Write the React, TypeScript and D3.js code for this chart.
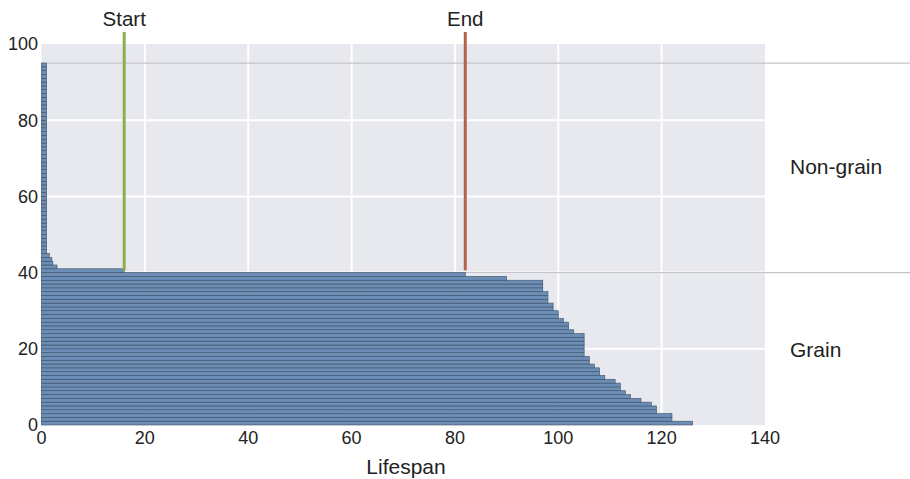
import React, { useEffect, useRef } from 'react';
import * as d3 from 'd3';

// lifespan of each grain item, row 0 at the bottom
const grainLifespans = [
  126, 122, 122, 119, 119, 118, 116, 114, 113, 112,
  112, 111, 109, 108, 108, 107, 106, 106, 105, 105,
  105, 105, 105, 105, 103, 102, 102, 101, 100, 100,
  99, 99, 98, 98, 98, 97, 97, 97, 90, 82
];

// non-grain items, stacked above the grain rows
const nonGrainLifespans = [
  16, 3, 2.2, 2, 1.5,
  1, 1, 1, 1, 1, 1, 1, 1, 1, 1,
  1, 1, 1, 1, 1, 1, 1, 1, 1, 1,
  1, 1, 1, 1, 1, 1, 1, 1, 1, 1,
  1, 1, 1, 1, 1, 1, 1, 1, 1, 1,
  1, 1, 1, 1, 1, 1, 1, 1, 1, 1
];

const xTicks = [0, 20, 40, 60, 80, 100, 120, 140];
const yTicks = [0, 20, 40, 60, 80, 100];
const markers = [
  { label: 'Start', value: 16, color: '#8fae4e' },
  { label: 'End', value: 82, color: '#b5624a' }
];
const groupLabels = [
  { label: 'Non-grain', y: 65.9 },
  { label: 'Grain', y: 17.9 }
];

const App: React.FC = () => {
  const svgRef = useRef<SVGSVGElement>(null);

  useEffect(() => {
    if (!svgRef.current) return;
    const width = 910;
    const height = 479;
    const font = 'Liberation Sans, Arial, Helvetica, sans-serif';

    d3.select(svgRef.current).selectAll('*').remove();
    const svg = d3.select(svgRef.current)
      .attr('width', width)
      .attr('height', height);

    const x = d3.scaleLinear().domain([0, 140]).range([41.5, 765]);
    const y = d3.scaleLinear().domain([0, 100]).range([425, 44]);

    const rows = [...grainLifespans, ...nonGrainLifespans];
    const nGrain = grainLifespans.length;
    const nTotal = rows.length;

    // plot background
    svg.append('rect')
      .attr('x', x(0))
      .attr('y', y(100))
      .attr('width', x(140) - x(0))
      .attr('height', y(0) - y(100))
      .attr('fill', '#e8e9ee');

    // white grid
    svg.append('g')
      .selectAll('line')
      .data(xTicks.filter(d => d > 0 && d < 140))
      .join('line')
      .attr('x1', d => x(d))
      .attr('x2', d => x(d))
      .attr('y1', y(100))
      .attr('y2', y(0))
      .attr('stroke', '#ffffff')
      .attr('stroke-width', 2);

    svg.append('g')
      .selectAll('line')
      .data(yTicks.filter(d => d > 0 && d < 100))
      .join('line')
      .attr('x1', x(0))
      .attr('x2', x(140))
      .attr('y1', d => y(d))
      .attr('y2', d => y(d))
      .attr('stroke', '#ffffff')
      .attr('stroke-width', 2);

    // group divider lines
    svg.append('g')
      .selectAll('line')
      .data([nGrain, nTotal])
      .join('line')
      .attr('x1', x(0))
      .attr('x2', width)
      .attr('y1', d => y(d))
      .attr('y2', d => y(d))
      .attr('stroke', '#c4c5cb')
      .attr('stroke-width', 1.2);

    // bars, one per row
    svg.append('g')
      .selectAll('rect')
      .data(rows)
      .join('rect')
      .attr('x', x(0))
      .attr('y', (d, i) => y(i + 1))
      .attr('width', d => x(d) - x(0))
      .attr('height', (d, i) => y(i) - y(i + 1))
      .attr('fill', '#6b8eb7')
      .attr('stroke', '#3f4f63')
      .attr('stroke-width', 0.6);

    // start / end markers
    const m = svg.append('g').selectAll('g').data(markers).join('g');
    m.append('line')
      .attr('x1', d => x(d.value))
      .attr('x2', d => x(d.value))
      .attr('y1', 32)
      .attr('y2', y(nGrain + 0.6))
      .attr('stroke', d => d.color)
      .attr('stroke-width', 3);
    m.append('text')
      .attr('x', d => x(d.value))
      .attr('y', 26)
      .attr('text-anchor', 'middle')
      .style('font-family', font)
      .style('font-size', '20.5px')
      .style('fill', '#222')
      .text(d => d.label);

    // axis labels
    svg.append('g')
      .selectAll('text')
      .data(yTicks)
      .join('text')
      .attr('x', 38)
      .attr('y', d => y(d))
      .attr('dy', '0.35em')
      .attr('text-anchor', 'end')
      .style('font-family', font)
      .style('font-size', '18px')
      .style('fill', '#222')
      .text(d => d);

    svg.append('g')
      .selectAll('text')
      .data(xTicks)
      .join('text')
      .attr('x', d => x(d))
      .attr('y', 444)
      .attr('text-anchor', 'middle')
      .style('font-family', font)
      .style('font-size', '18px')
      .style('fill', '#222')
      .text(d => d);

    svg.append('text')
      .attr('x', 406)
      .attr('y', 474)
      .attr('text-anchor', 'middle')
      .style('font-family', font)
      .style('font-size', '21px')
      .style('fill', '#222')
      .text('Lifespan');

    svg.append('g')
      .selectAll('text')
      .data(groupLabels)
      .join('text')
      .attr('x', 790)
      .attr('y', d => y(d.y))
      .style('font-family', font)
      .style('font-size', '21px')
      .style('fill', '#222')
      .text(d => d.label);
  }, []);

  return (
    <svg ref={svgRef} style={{ position: 'absolute', left: 0, top: 0 }} />
  );
};

export default App;
